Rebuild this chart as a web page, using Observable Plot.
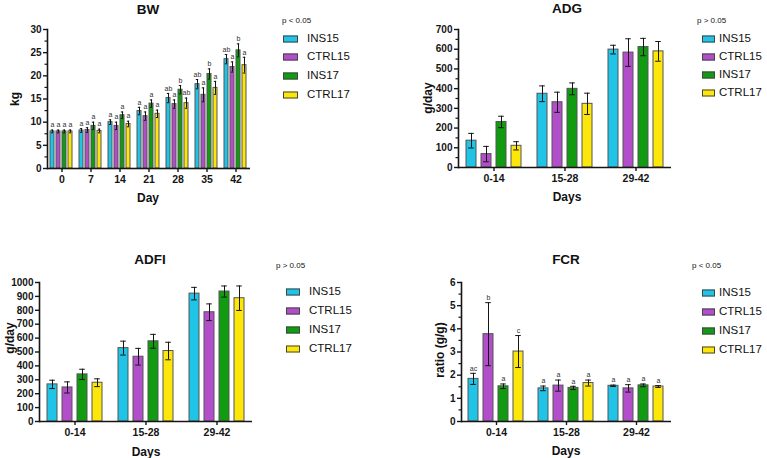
<!DOCTYPE html>
<html>
<head>
<meta charset="utf-8">
<script src="https://cdn.jsdelivr.net/npm/d3@7"></script>
<script src="https://cdn.jsdelivr.net/npm/@observablehq/plot@0.6"></script>
<style>
  body { margin: 0; background: #fff; font-family: "Liberation Sans", Arial, sans-serif; color: #111; }
  #page { position: relative; width: 767px; height: 458px; overflow: hidden; background: #fff; }
  .abs { position: absolute; white-space: nowrap; line-height: 1; }
  .title { font-weight: bold; font-size: 13.5px; transform: translate(-50%, -50%); }
  .xlab { font-weight: bold; font-size: 12px; transform: translate(-50%, -50%); }
  .ylab { font-weight: bold; font-size: 12px; transform: translate(-50%, -50%) rotate(-90deg); }
  .ptext { font-size: 8px; transform: translateY(-50%); }
  .swatch { position: absolute; box-sizing: border-box; border: 1px solid #444; transform: translateY(-50%); }
  .ltext { font-size: 11.5px; transform: translateY(-50%); }
</style>
</head>
<body>
<div id="page"></div>
<script>
// Treatment groups and their fill colours
const groups = ["INS15", "CTRL15", "INS17", "CTRL17"];
const colors = ["#1fc4e6", "#b24ec9", "#119b11", "#fde60a"];

// Body weight (kg) by day
const bwDays = ["0", "7", "14", "21", "28", "35", "42"];
const bwMean = {
  INS15:  [8.0, 8.2, 10.0, 12.4, 15.2, 18.2, 23.6],
  CTRL15: [8.0, 8.3, 9.2, 11.3, 13.9, 15.9, 21.9],
  INS17:  [8.0, 9.2, 11.5, 14.0, 17.0, 20.4, 25.5],
  CTRL17: [8.0, 8.1, 9.6, 11.8, 14.1, 17.4, 22.3]
};
const bwSd = {
  INS15:  [0.3, 0.4, 0.5, 0.8, 1.0, 1.0, 1.0],
  CTRL15: [0.3, 0.5, 0.8, 0.9, 0.9, 1.5, 1.1],
  INS17:  [0.3, 0.8, 0.7, 0.8, 0.9, 1.1, 1.4],
  CTRL17: [0.3, 0.4, 0.6, 0.8, 1.1, 1.4, 1.7]
};
const bwLetters = {
  INS15:  ["a", "a", "a", "a", "ab", "ab", "ab"],
  CTRL15: ["a", "a", "a", "a", "a", "a", "a"],
  INS17:  ["a", "a", "a", "a", "b", "b", "b"],
  CTRL17: ["a", "a", "a", "a", "ab", "a", "a"]
};

// Period-based traits
const periods = ["0-14", "15-28", "29-42"];

// Average daily gain (g/day)
const adgMean = { INS15: [136, 374, 598], CTRL15: [68, 331, 583], INS17: [231, 399, 611], CTRL17: [110, 323, 589] };
const adgSd   = { INS15: [37, 40, 22],   CTRL15: [39, 51, 70],   INS17: [29, 30, 44],   CTRL17: [21, 54, 50] };

// Average daily feed intake (g/day)
const adfiMean = { INS15: [267, 528, 920], CTRL15: [245, 466, 786], INS17: [339, 577, 935], CTRL17: [279, 507, 887] };
const adfiSd   = { INS15: [30, 50, 45],    CTRL15: [40, 60, 60],    INS17: [37, 50, 40],    CTRL17: [28, 63, 88] };

// Feed conversion ratio (g/g)
const fcrMean = { INS15: [1.84, 1.43, 1.54], CTRL15: [3.77, 1.55, 1.43], INS17: [1.52, 1.45, 1.56], CTRL17: [3.02, 1.66, 1.51] };
const fcrSd   = { INS15: [0.24, 0.10, 0.03], CTRL15: [1.36, 0.24, 0.16], INS17: [0.10, 0.07, 0.06], CTRL17: [0.69, 0.13, 0.04] };
const fcrLetters = {
  INS15:  ["ac", "a", "a"],
  CTRL15: ["b", "a", "a"],
  INS17:  ["a", "a", "a"],
  CTRL17: ["c", "a", "a"]
};

const page = document.getElementById("page");
const FONT = "Liberation Sans, Arial, sans-serif";
const INK = "#151515";
const plain = d3.format("d");

function rowsFor(cats, mean, sd, letters) {
  const rows = [];
  cats.forEach((c, i) => groups.forEach(g => rows.push({
    cat: c, group: g, mean: mean[g][i], sd: sd[g][i], letter: letters ? letters[g][i] : ""
  })));
  return rows;
}

function barPanel(o) {
  const rows = rowsFor(o.cats, o.mean, o.sd, o.letters);
  const svg = Plot.plot({
    width: o.width, height: o.height,
    marginLeft: o.ml, marginRight: o.mr, marginTop: o.mt, marginBottom: o.mb,
    style: { fontFamily: FONT, fontWeight: "bold", background: "transparent", overflow: "visible", color: INK },
    fx: { domain: o.cats, padding: 0, label: null },
    x: { domain: groups, paddingInner: o.pi, paddingOuter: o.po, axis: null },
    y: { domain: o.yDomain, axis: null },
    color: { domain: groups, range: colors },
    marks: [
      Plot.barY(rows, { fx: "cat", x: "group", y: "mean", fill: "group", stroke: "#555", strokeWidth: 1 }),
      Plot.ruleX(rows, { fx: "cat", x: "group", y1: d => d.mean - d.sd, y2: d => d.mean + d.sd, stroke: INK, strokeWidth: 1 }),
      Plot.tickY(rows, { fx: "cat", x: "group", y: d => d.mean + d.sd, stroke: INK, strokeWidth: 1, insetLeft: o.cap, insetRight: o.cap }),
      Plot.tickY(rows, { fx: "cat", x: "group", y: d => d.mean - d.sd, stroke: INK, strokeWidth: 1, insetLeft: o.cap, insetRight: o.cap }),
      Plot.text(rows.filter(d => d.letter), { fx: "cat", x: "group", y: d => d.mean + d.sd, text: "letter", dy: -5, fontSize: o.letterSize, fontWeight: "normal", fill: "#333" }),
      Plot.ruleY([o.yDomain[0]], { stroke: INK, strokeWidth: 1.6 }),
      Plot.frame({ anchor: "left", facetAnchor: "left", stroke: INK, strokeWidth: 1.6 }),
      Plot.axisY({ ticks: o.yTicks, tickFormat: plain, tickSize: 4, tickPadding: 2, strokeWidth: 1.4, fontSize: 10, fontWeight: "bold", label: null }),
      ...(o.yMinor ? [Plot.axisY({ ticks: o.yMinor, tickSize: 2.5, strokeWidth: 1.2, tickFormat: () => "", label: null })] : []),
      Plot.axisFx({ anchor: "bottom", tickSize: 4, tickPadding: 3, strokeWidth: 1.4, fontSize: 10.5, fontWeight: "bold", label: null })
    ]
  });
  svg.style.position = "absolute";
  svg.style.left = o.left + "px";
  svg.style.top = o.top + "px";
  page.appendChild(svg);
}

function text(str, cls, x, y) {
  const d = document.createElement("div");
  d.className = "abs " + cls;
  d.textContent = str;
  d.style.left = x + "px";
  d.style.top = y + "px";
  page.appendChild(d);
}

function legend(pText, px, py, swLeft, swW, textLeft, ys) {
  text(pText, "ptext", px, py);
  groups.forEach((g, i) => {
    const s = document.createElement("div");
    s.className = "swatch";
    s.style.left = swLeft + "px";
    s.style.top = ys[i] + "px";
    s.style.width = swW + "px";
    s.style.height = "7px";
    s.style.background = colors[i];
    page.appendChild(s);
    text(g, "ltext", textLeft, ys[i]);
  });
}

// BW
barPanel({
  left: 0, top: 0, width: 260, height: 190, ml: 45, mr: 8, mt: 29, mb: 22,
  cats: bwDays, mean: bwMean, sd: bwSd, letters: bwLetters,
  yDomain: [0, 30], yTicks: d3.range(0, 31, 5), yMinor: d3.range(2.5, 30, 5),
  pi: 0.3, po: 0.35, cap: 0.8, letterSize: 7
});
text("BW", "title", 148, 10);
text("Day", "xlab", 148, 198);
text("kg", "ylab", 15, 99);
legend("p < 0.05", 282, 21, 283, 15, 307, [39, 57, 76, 95]);

// ADG
barPanel({
  left: 380, top: 0, width: 300, height: 190, ml: 77, mr: 8, mt: 29, mb: 23,
  cats: periods, mean: adgMean, sd: adgSd,
  yDomain: [0, 700], yTicks: d3.range(0, 701, 100), yMinor: d3.range(50, 700, 100),
  pi: 0.33, po: 0.52, cap: 2.2, letterSize: 7
});
text("ADG", "title", 567, 9);
text("Days", "xlab", 567, 197);
text("g/day", "ylab", 428, 98);
legend("p > 0.05", 697, 21, 702, 13, 719, [39, 57, 75, 93]);

// ADFI
barPanel({
  left: 0, top: 225, width: 260, height: 215, ml: 38, mr: 8, mt: 57, mb: 19,
  cats: periods, mean: adfiMean, sd: adfiSd,
  yDomain: [0, 1000], yTicks: d3.range(0, 1001, 100), yMinor: null,
  pi: 0.35, po: 0.49, cap: 2.2, letterSize: 7
});
text("ADFI", "title", 150, 260);
text("Days", "xlab", 146, 452);
text("g/day", "ylab", 10, 338);
legend("p > 0.05", 276, 266, 286, 14, 309, [292, 311, 330, 349]);

// FCR
barPanel({
  left: 380, top: 225, width: 300, height: 215, ml: 80, mr: 8, mt: 57, mb: 19,
  cats: periods, mean: fcrMean, sd: fcrSd, letters: fcrLetters,
  yDomain: [0, 6], yTicks: d3.range(0, 7, 1), yMinor: d3.range(0.5, 6, 1),
  pi: 0.33, po: 0.49, cap: 2.2, letterSize: 7
});
text("FCR", "title", 566, 260);
text("Days", "xlab", 566, 451);
text("ratio (g/g)", "ylab", 440, 350);
legend("p < 0.05", 692, 266, 702, 13, 719, [293, 312, 331, 350]);
</script>
</body>
</html>
